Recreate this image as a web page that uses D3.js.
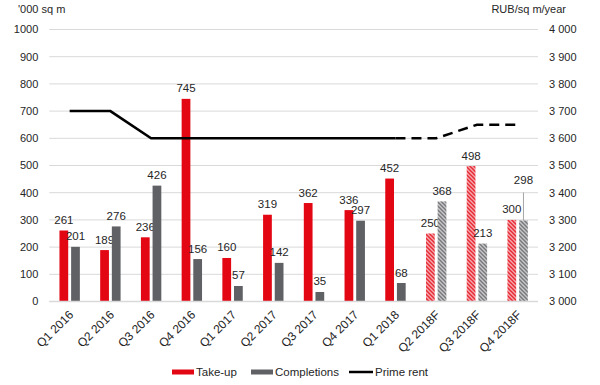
<!DOCTYPE html>
<html>
<head>
<meta charset="utf-8">
<script src="https://cdn.jsdelivr.net/npm/d3@7"></script>
<style>
  body { margin: 0; background: #fff; }
  text { font-family: "Liberation Sans", Arial, sans-serif; fill: #262626; }
</style>
</head>
<body>
<div id="chart"></div>
<script>
// data
const categories = ["Q1 2016","Q2 2016","Q3 2016","Q4 2016","Q1 2017","Q2 2017","Q3 2017","Q4 2017","Q1 2018","Q2 2018F","Q3 2018F","Q4 2018F"];
const takeUp = [261, 189, 236, 745, 160, 319, 362, 336, 452, 250, 498, 300];
const completions = [201, 276, 426, 156, 57, 142, 35, 297, 68, 368, 213, 298];
const primeRent = [3700, 3700, 3600, 3600, 3600, 3600, 3600, 3600, 3600, 3600, 3650, 3650];
const forecast = [false, false, false, false, false, false, false, false, false, true, true, true];
const leftTicks = [0, 100, 200, 300, 400, 500, 600, 700, 800, 900, 1000];
const rightTicks = [3000, 3100, 3200, 3300, 3400, 3500, 3600, 3700, 3800, 3900, 4000];

const W = 600, H = 385;
const margin = {top: 29.5, right: 62, bottom: 83.5, left: 49.3};
const width = W - margin.left - margin.right,
      height = H - margin.top - margin.bottom;

const red = "#E30613", grey = "#606165";

const svg = d3.select("#chart").append("svg")
    .attr("width", W).attr("height", H);

// hatch patterns for forecast bars
const defs = svg.append("defs");
[["hatchRed", red], ["hatchGrey", grey]].forEach(([id, c]) => {
  const p = defs.append("pattern")
      .attr("id", id).attr("patternUnits", "userSpaceOnUse")
      .attr("width", 4).attr("height", 4);
  p.append("rect").attr("width", 4).attr("height", 4).attr("fill", "#fff");
  p.append("path").attr("d", "M-1,-1 L5,5 M-1,3 L1,5 M3,-1 L5,1")
      .attr("stroke", c).attr("stroke-width", 1.6);
});

const g = svg.append("g").attr("transform", `translate(${margin.left},${margin.top})`);

const x = d3.scaleBand().domain(categories).range([0, width]);
const x1 = d3.scaleBand().domain(["takeUp", "completions"]).range([-10.2, 10.2]).paddingInner(0.25);
const y = d3.scaleLinear().domain([0, 1000]).range([height, 0]);
const y2 = d3.scaleLinear().domain([3000, 4000]).range([height, 0]);
const cx = c => x(c) + x.bandwidth() / 2;

// gridlines
g.append("g").selectAll("line").data(leftTicks).join("line")
    .attr("x1", 0).attr("x2", width)
    .attr("y1", d => y(d)).attr("y2", d => y(d))
    .attr("stroke", "#D9D9D9").attr("stroke-width", 1);

// left axis labels
g.append("g").selectAll("text").data(leftTicks).join("text")
    .attr("x", -11).attr("y", d => y(d)).attr("dy", "0.35em")
    .attr("text-anchor", "end").style("font-size", "11px")
    .text(d => d);

// right axis labels, thousands separated by a space
const fmt = d => d3.format(",")(d).replace(",", " ");
g.append("g").selectAll("text").data(rightTicks).join("text")
    .attr("x", width + 11).attr("y", d => y2(d)).attr("dy", "0.35em")
    .attr("text-anchor", "start").style("font-size", "11px")
    .text(fmt);

// unit titles
svg.append("text").attr("x", 18).attr("y", 13).style("font-size", "11px").text("'000 sq m");
svg.append("text").attr("x", 566).attr("y", 13).attr("text-anchor", "end").style("font-size", "11px").text("RUB/sq m/year");

// bars
const rows = categories.map((c, i) => ({c, i, takeUp: takeUp[i], completions: completions[i], f: forecast[i]}));
const series = [
  {key: "takeUp", color: red, hatch: "url(#hatchRed)"},
  {key: "completions", color: grey, hatch: "url(#hatchGrey)"}
];

series.forEach(s => {
  g.append("g").selectAll("rect").data(rows).join("rect")
      .attr("x", d => cx(d.c) + x1(s.key))
      .attr("width", x1.bandwidth())
      .attr("y", d => y(d[s.key]))
      .attr("height", d => height - y(d[s.key]))
      .attr("fill", d => d.f ? s.hatch : s.color);

  // value labels (the last completions label is lifted with a leader line)
  g.append("g").selectAll("text").data(rows).join("text")
      .attr("x", d => cx(d.c) + x1(s.key) + x1.bandwidth() / 2)
      .attr("y", d => {
        const lift = (s.key === "completions" && d.i === categories.length - 1) ? 30 : 0;
        return y(d[s.key]) - 6.5 - lift;
      })
      .attr("text-anchor", "middle").style("font-size", "11.5px")
      .text(d => d[s.key]);
});

// leader line for the Q4 2018F completions label
const last = rows[rows.length - 1];
const lx = cx(last.c) + x1("completions") + x1.bandwidth() / 2;
g.append("line")
    .attr("x1", lx).attr("x2", lx)
    .attr("y1", y(last.completions) - 28).attr("y2", y(last.completions))
    .attr("stroke", "#A6A6A6").attr("stroke-width", 1);

// baseline
g.append("line").attr("x1", 0).attr("x2", width)
    .attr("y1", height).attr("y2", height)
    .attr("stroke", "#D9D9D9").attr("stroke-width", 1.5);

// prime rent line: solid for actuals, dashed for forecast
const line = d3.line().x(d => cx(d.c)).y(d => y2(d.v));
const rentPts = categories.map((c, i) => ({c, v: primeRent[i], f: forecast[i]}));
const firstF = forecast.indexOf(true);
g.append("path").datum(rentPts.slice(0, firstF))
    .attr("d", line).attr("fill", "none")
    .attr("stroke", "#000").attr("stroke-width", 2.5);
g.append("path").datum(rentPts.slice(firstF - 1))
    .attr("d", line).attr("fill", "none")
    .attr("stroke", "#000").attr("stroke-width", 2.5)
    .attr("stroke-dasharray", "10,6");

// x labels
g.append("g").selectAll("text").data(categories).join("text")
    .attr("transform", d => `translate(${cx(d) + 1.5},${height + 11}) rotate(-45)`)
    .attr("text-anchor", "end").attr("dy", "0.35em")
    .style("font-size", "12px")
    .text(d => d);

// legend
const legend = svg.append("g").attr("transform", "translate(0,372)");
legend.append("rect").attr("x", 172).attr("y", -2.5).attr("width", 22).attr("height", 5).attr("fill", red);
legend.append("text").attr("x", 196).attr("dy", "0.35em").style("font-size", "11.5px").text("Take-up");
legend.append("rect").attr("x", 251).attr("y", -2.5).attr("width", 22).attr("height", 5).attr("fill", grey);
legend.append("text").attr("x", 275).attr("dy", "0.35em").style("font-size", "11.5px").text("Completions");
legend.append("line").attr("x1", 349).attr("x2", 373).attr("y1", 0).attr("y2", 0).attr("stroke", "#000").attr("stroke-width", 2.5);
legend.append("text").attr("x", 375).attr("dy", "0.35em").style("font-size", "11.5px").text("Prime rent");
</script>
</body>
</html>
